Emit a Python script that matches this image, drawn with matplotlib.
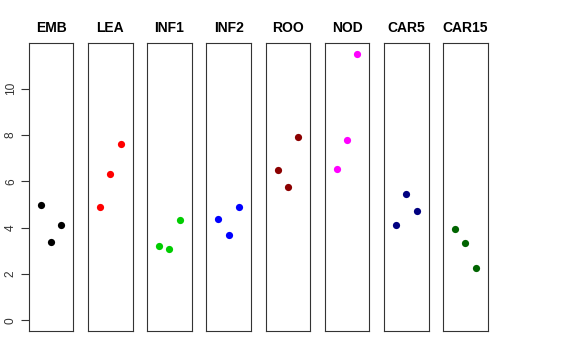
import matplotlib
matplotlib.use("Agg")
import matplotlib.pyplot as plt

plt.rcParams.update({
    "font.family": ["Liberation Sans", "DejaVu Sans"],
    "axes.linewidth": 0.8,
})

groups = ["EMB", "LEA", "INF1", "INF2", "ROO", "NOD", "CAR5", "CAR15"]
colors = ["#000000", "#FF0000", "#00CD00", "#0000FF",
          "#8B0000", "#FF00FF", "#000080", "#006400"]
positions = [1, 2, 3]

emb = [4.99, 3.38, 4.10]
lea = [4.88, 6.31, 7.61]
inf1 = [3.22, 3.06, 4.32]
inf2 = [4.39, 3.67, 4.88]
roo = [6.47, 5.77, 7.90]
nod = [6.54, 7.80, 11.51]
car5 = [4.10, 5.46, 4.70]
car15 = [3.94, 3.32, 2.26]
values = [emb, lea, inf1, inf2, roo, nod, car5, car15]

yticks = [0, 2, 4, 6, 8, 10]

W, H = 576, 360
fig = plt.figure(figsize=(W / 100, H / 100), dpi=100)

left0, step, width = 28.7, 59.2, 44.7
bottom, top = 29, 317
ymax = max(max(v) for v in values)
pad = 0.04 * ymax

for i, (name, col, vals) in enumerate(zip(groups, colors, values)):
    ax = fig.add_axes([(left0 + i * step) / W, bottom / H,
                       width / W, (top - bottom) / H])
    ax.plot(positions, vals, "o", color=col, markersize=5.2,
            markeredgewidth=0)
    ax.set_xlim(-0.16, 4.16)
    ax.set_ylim(-pad, ymax + pad)
    ax.set_xticks([])
    for s in ax.spines.values():
        s.set_color("#333333")
    ax.set_title(name, fontsize=10, fontweight="bold", pad=8)
    if i == 0:
        ax.set_yticks(yticks)
        ax.set_yticklabels([str(t) for t in yticks], rotation=90,
                           va="center", fontsize=8.6, color="#333333")
        ax.tick_params(axis="y", length=5.5, width=0.8, color="#333333",
                       pad=3)
    else:
        ax.set_yticks([])

fig.savefig("out.png", dpi=100)
